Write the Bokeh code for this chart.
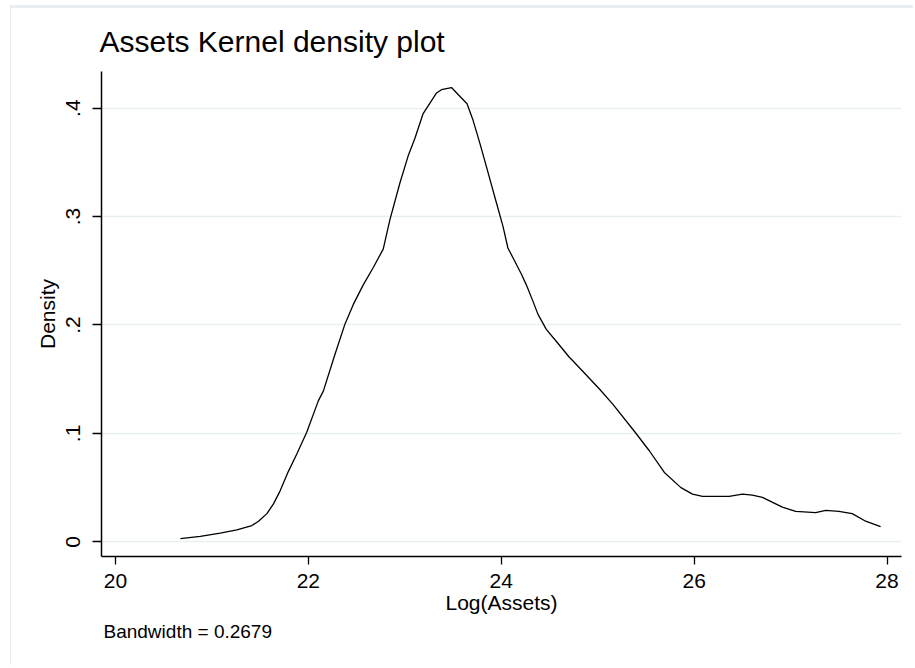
from bokeh.plotting import figure
from bokeh.models import FixedTicker, Range1d, Title
from bokeh.embed import file_html
from bokeh.resources import INLINE

# Kernel density estimate of log assets (evaluation points and density)
log_assets = [20.673, 20.879, 21.086, 21.259, 21.414, 21.483, 21.570, 21.638,
              21.707, 21.793, 21.880, 21.983, 22.103, 22.155, 22.276, 22.380,
              22.466, 22.569, 22.673, 22.776, 22.845, 22.949, 23.035, 23.104,
              23.190, 23.329, 23.380, 23.484, 23.570, 23.645, 23.707, 23.777,
              23.846, 23.949, 24.018, 24.069, 24.139, 24.208, 24.260, 24.328,
              24.380, 24.467, 24.570, 24.708, 24.742, 25.018, 25.156, 25.380,
              25.535, 25.691, 25.863, 25.983, 26.087, 26.363, 26.501, 26.604,
              26.708, 26.915, 27.053, 27.260, 27.364, 27.501, 27.639, 27.778,
              27.933]
density = [0.003, 0.005, 0.008, 0.011, 0.015, 0.019, 0.026, 0.035,
           0.047, 0.065, 0.081, 0.101, 0.130, 0.139, 0.173, 0.201,
           0.219, 0.237, 0.253, 0.270, 0.297, 0.331, 0.356, 0.372,
           0.395, 0.414, 0.417, 0.419, 0.411, 0.404, 0.389, 0.368,
           0.346, 0.313, 0.291, 0.271, 0.259, 0.247, 0.237, 0.222,
           0.210, 0.196, 0.185, 0.170, 0.167, 0.141, 0.127, 0.102,
           0.084, 0.064, 0.050, 0.044, 0.042, 0.042, 0.044, 0.043,
           0.041, 0.032, 0.028, 0.027, 0.029, 0.028, 0.026, 0.019,
           0.014]

x_ticks = [20, 22, 24, 26, 28]
y_ticks = [0, 0.1, 0.2, 0.3, 0.4]
y_tick_labels = ["0", ".1", ".2", ".3", ".4"]

title_text = "Assets Kernel density plot"
x_title = "Log(Assets)"
y_title = "Density"
note_text = "Bandwidth = 0.2679"

FONT = "Liberation Sans"
GRID = "#e8eff1"

p = figure(width=903, height=660, output_backend="svg", toolbar_location=None,
           x_range=Range1d(19.855, 28.15), y_range=Range1d(-0.01354, 0.4338),
           min_border_left=90, min_border_right=13,
           min_border_top=62, min_border_bottom=112,
           background_fill_color="white", border_fill_color="white")
p.outline_line_color = None

# light graph-region edge along the top and left of the figure
p.styles = {"margin-left": "10px", "margin-top": "5px",
            "border-left": "1.5px solid " + GRID,
            "border-top": "3px solid " + GRID}

# title
p.title.text = title_text
p.title.text_font = FONT
p.title.text_font_size = "30px"
p.title.text_font_style = "normal"
p.title.text_color = "black"
p.title.align = "left"
p.title.offset = -2
p.title.standoff = 28

# bottom note
note = Title(text=note_text, align="left", text_font=FONT, text_font_size="19px",
             text_font_style="normal", text_color="black", offset=2, standoff=4)
p.add_layout(note, "below")

# axes
for ax in (p.xaxis[0], p.yaxis[0]):
    ax.axis_line_color = "black"
    ax.axis_line_width = 1.5
    ax.major_tick_line_color = "black"
    ax.major_tick_line_width = 1.3
    ax.major_tick_in = 0
    ax.minor_tick_line_color = None
    ax.major_label_text_font = FONT
    ax.major_label_text_font_size = "21px"
    ax.major_label_text_color = "black"
    ax.axis_label_text_font = FONT
    ax.axis_label_text_font_size = "21px"
    ax.axis_label_text_font_style = "normal"
    ax.axis_label_text_color = "black"

p.xaxis.ticker = FixedTicker(ticks=x_ticks)
p.xaxis.major_tick_out = 8
p.xaxis.major_label_standoff = 9
p.xaxis.axis_label = x_title
p.xaxis.axis_label_standoff = 0

p.yaxis.ticker = FixedTicker(ticks=y_ticks)
p.yaxis.major_label_overrides = dict(zip(y_ticks, y_tick_labels))
p.yaxis.major_label_orientation = "vertical"
p.yaxis.major_tick_out = 9
p.yaxis.major_label_standoff = 12
p.yaxis.axis_label = y_title
p.yaxis.axis_label_standoff = 5

# grid: horizontal only
p.xgrid.grid_line_color = None
p.ygrid.ticker = FixedTicker(ticks=y_ticks)
p.ygrid.grid_line_color = GRID
p.ygrid.grid_line_width = 1.3

# density curve
p.line(log_assets, density, line_color="black", line_width=1.3)

open("out.html", "w").write(file_html(p, INLINE))
